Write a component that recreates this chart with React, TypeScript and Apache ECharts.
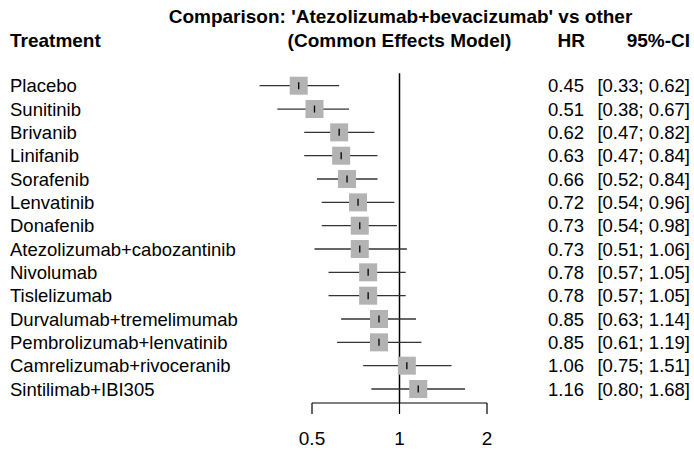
import React, { useEffect, useRef } from 'react';
import * as echarts from 'echarts';

const treatments = [
  'Placebo',
  'Sunitinib',
  'Brivanib',
  'Linifanib',
  'Sorafenib',
  'Lenvatinib',
  'Donafenib',
  'Atezolizumab+cabozantinib',
  'Nivolumab',
  'Tislelizumab',
  'Durvalumab+tremelimumab',
  'Pembrolizumab+lenvatinib',
  'Camrelizumab+rivoceranib',
  'Sintilimab+IBI305',
];
const hrValues = [0.45, 0.51, 0.62, 0.63, 0.66, 0.72, 0.73, 0.73, 0.78, 0.78, 0.85, 0.85, 1.06, 1.16];
const lowerCI = [0.33, 0.38, 0.47, 0.47, 0.52, 0.54, 0.54, 0.51, 0.57, 0.57, 0.63, 0.61, 0.75, 0.8];
const upperCI = [0.62, 0.67, 0.82, 0.84, 0.84, 0.96, 0.98, 1.06, 1.05, 1.05, 1.14, 1.19, 1.51, 1.68];
const axisTicks = [0.5, 1, 2];
const titleText = "Comparison: 'Atezolizumab+bevacizumab' vs other";
const subTitleText = '(Common Effects Model)';
const colTreatment = 'Treatment';
const colHR = 'HR';
const colCI = '95%-CI';

const FONT = "'Liberation Sans', Arial, Helvetica, sans-serif";
const ROW_FS = 18.5;
const HEAD_FS = 19;
const REF_TOP = -0.53; // in row units
const AXIS_ROW = 13.6; // in row units

function txt(text: string, x: number, y: number, align: string, bold = false, size = ROW_FS) {
  return {
    type: 'text',
    x,
    y,
    style: {
      text,
      fill: '#000',
      fontSize: size,
      fontFamily: FONT,
      fontWeight: bold ? 'bold' : 'normal',
      align,
      verticalAlign: 'middle',
      textAlign: align,
      textVerticalAlign: 'middle',
    },
  };
}

export default function App() {
  const ref = useRef<HTMLDivElement>(null);

  useEffect(() => {
    if (!ref.current) return;
    const chart = echarts.init(ref.current, null, { renderer: 'svg' });

    const rowData = treatments.map((_, i) => [hrValues[i], lowerCI[i], upperCI[i], i]);

    const option: any = {
      animation: false,
      backgroundColor: '#ffffff',
      grid: { left: 247.52, right: 194.97, top: 62.37, bottom: 49 },
      xAxis: {
        type: 'log',
        logBase: 2,
        min: 0.3,
        max: 2.2,
        axisLine: { show: false },
        axisTick: { show: false },
        splitLine: { show: false },
        axisLabel: {
          margin: 26,
          fontSize: ROW_FS + 0.5,
          fontFamily: FONT,
          color: '#000',
          formatter: (v: number) => {
            const hit = axisTicks.find((t) => Math.abs(t - v) < 1e-6);
            return hit !== undefined ? String(hit) : '';
          },
        },
      },
      yAxis: {
        type: 'value',
        inverse: true,
        min: -1,
        max: AXIS_ROW,
        show: false,
      },
      graphic: [
        txt(titleText, 400.5, 16.5, 'center', true, HEAD_FS),
        txt(colTreatment, 10, 40, 'left', true, HEAD_FS),
        txt(subTitleText, 399.5, 40, 'center', true, HEAD_FS),
        txt(colHR, 585, 40, 'right', true, HEAD_FS),
        txt(colCI, 690, 40, 'right', true, HEAD_FS),
      ],
      series: [
        {
          type: 'custom',
          name: 'axisDecor',
          silent: true,
          data: [[1, 0]],
          encode: { x: 0, y: 1 },
          renderItem: (params: any, api: any) => {
            const top = api.coord([1, REF_TOP]);
            const bottom = api.coord([1, AXIS_ROW]);
            const aL = api.coord([axisTicks[0], AXIS_ROW]);
            const aR = api.coord([axisTicks[axisTicks.length - 1], AXIS_ROW]);
            const children: any[] = [
              {
                type: 'line',
                shape: { x1: top[0], y1: top[1], x2: bottom[0], y2: bottom[1] },
                style: { stroke: '#000', lineWidth: 1.5 },
              },
              {
                type: 'line',
                shape: { x1: aL[0], y1: aL[1], x2: aR[0], y2: aR[1] },
                style: { stroke: '#000', lineWidth: 1.2 },
              },
            ];
            axisTicks.forEach((t) => {
              const p = api.coord([t, AXIS_ROW]);
              children.push({
                type: 'line',
                shape: { x1: p[0], y1: p[1], x2: p[0], y2: p[1] + 11 },
                style: { stroke: '#000', lineWidth: 1.2 },
              });
            });
            return { type: 'group', children };
          },
        },
        {
          type: 'custom',
          name: 'rows',
          silent: true,
          data: rowData,
          encode: { x: [0, 1, 2], y: 3 },
          renderItem: (params: any, api: any) => {
            const i = api.value(3);
            const hr = api.value(0);
            const lo = api.value(1);
            const hi = api.value(2);
            const c = api.coord([hr, i]);
            const l = api.coord([lo, i]);
            const h = api.coord([hi, i]);
            const half = 9;
            const ciText = '[' + lo.toFixed(2) + '; ' + hi.toFixed(2) + ']';
            return {
              type: 'group',
              children: [
                {
                  type: 'line',
                  shape: { x1: l[0], y1: c[1], x2: h[0], y2: c[1] },
                  style: { stroke: '#333333', lineWidth: 1.3 },
                },
                {
                  type: 'rect',
                  shape: { x: c[0] - half, y: c[1] - half, width: half * 2, height: half * 2 },
                  style: { fill: '#b3b3b3' },
                },
                {
                  type: 'line',
                  shape: { x1: c[0], y1: c[1] - 3.5, x2: c[0], y2: c[1] + 3.5 },
                  style: { stroke: '#000', lineWidth: 1.3 },
                },
                txt(treatments[i], 10, c[1], 'left'),
                txt(hr.toFixed(2), 584, c[1], 'right'),
                txt(ciText, 690, c[1], 'right'),
              ],
            };
          },
        },
      ],
    };

    chart.setOption(option);
    return () => chart.dispose();
  }, []);

  return (
    <div
      ref={ref}
      style={{ position: 'fixed', left: 0, top: 0, width: 694, height: 452, background: '#fff' }}
    />
  );
}
